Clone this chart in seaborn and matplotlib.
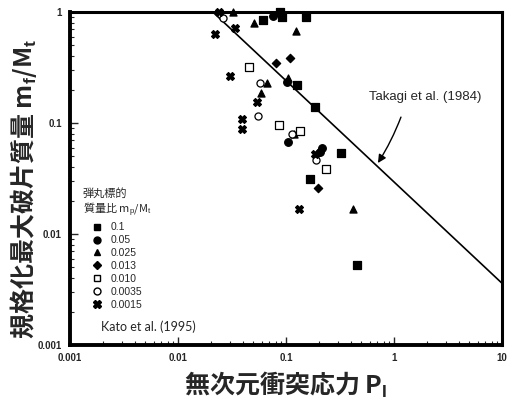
import matplotlib
matplotlib.use("Agg")
import matplotlib.pyplot as plt
import seaborn as sns
import pandas as pd
from matplotlib.lines import Line2D

# ---- data ----
sq_x = [0.061, 0.088, 0.092, 0.153, 0.126, 0.186, 0.323, 0.167, 0.454]
sq_y = [0.85, 1.0, 0.90, 0.90, 0.22, 0.139, 0.054, 0.031, 0.0053]

ci_x = [0.076, 0.102, 0.104, 0.215, 0.205]
ci_y = [0.92, 0.234, 0.0675, 0.060, 0.055]

tr_x = [0.032, 0.0506, 0.124, 0.0667, 0.0586, 0.105, 0.119, 0.417]
tr_y = [1.0, 0.80, 0.67, 0.23, 0.186, 0.254, 0.079, 0.0168]

di_x = [0.081, 0.109, 0.198, 0.200]
di_y = [0.347, 0.385, 0.026, 0.055]

osq_x = [0.045, 0.086, 0.135, 0.234]
osq_y = [0.32, 0.096, 0.085, 0.0385]

oci_x = [0.026, 0.057, 0.055, 0.114, 0.19]
oci_y = [0.88, 0.23, 0.116, 0.080, 0.046]

xm_x = [0.022, 0.024, 0.0337, 0.030, 0.054, 0.039, 0.039, 0.186, 0.132]
xm_y = [0.63, 1.0, 0.72, 0.265, 0.155, 0.109, 0.088, 0.0526, 0.0168]

takagi_x = [0.021, 10.0]
takagi_y = [1.0, 0.0036]

legend_labels = ["0.1", "0.05", "0.025", "0.013", "0.010", "0.0035", "0.0015"]
xticks = [0.001, 0.01, 0.1, 1, 10]
xticklabels = ["0.001", "0.01", "0.1", "1", "10"]
yticks = [0.001, 0.01, 0.1, 1]
yticklabels = ["0.001", "0.01", "0.1", "1"]

sns.set_style("white")
plt.rcParams['font.family'] = ['Noto Sans CJK JP', 'DejaVu Sans']
plt.rcParams['mathtext.fontset'] = 'custom'
plt.rcParams['mathtext.rm'] = 'Liberation Sans'
plt.rcParams['mathtext.bf'] = 'Liberation Sans:bold'

fig = plt.figure(figsize=(5.07, 4.05), dpi=100)
ax = fig.add_axes([70/507, 1-345/405, 432/507, 333/405])

groups = [
    (sq_x, sq_y, 's', 'black', 'black', 30),
    (ci_x, ci_y, 'o', 'black', 'black', 30),
    (tr_x, tr_y, '^', 'black', 'black', 26),
    (di_x, di_y, 'D', 'black', 'black', 18),
    (osq_x, osq_y, 's', 'white', 'black', 26),
    (oci_x, oci_y, 'o', 'white', 'black', 26),
    (xm_x, xm_y, 'X', 'black', 'black', 32),
]
for gx, gy, m, fc, ec, s in groups:
    df = pd.DataFrame({"x": gx, "y": gy})
    sns.scatterplot(data=df, x="x", y="y", marker=m, s=s, facecolor=fc,
                    edgecolor=ec, linewidth=0.9, ax=ax, zorder=3, clip_on=False)

tdf = pd.DataFrame({"x": takagi_x, "y": takagi_y})
sns.lineplot(data=tdf, x="x", y="y", color="black", linewidth=1.2, ax=ax, zorder=2)

ax.set_xscale("log")
ax.set_yscale("log")
ax.set_xlim(0.001, 10)
ax.set_ylim(0.001, 1)
ax.set_xticks(xticks)
ax.set_xticklabels(xticklabels, fontfamily='Liberation Sans', fontweight='bold', fontsize=7)
ax.set_yticks(yticks)
ax.set_yticklabels(yticklabels, fontfamily='Liberation Sans', fontweight='bold', fontsize=7)
ax.tick_params(which='major', direction='in', length=6, width=1, pad=6)
ax.tick_params(which='minor', direction='in', length=3, width=0.8)
ax.tick_params(axis='both', which='both', left=True, bottom=True, top=False, right=False)

for side in ['left', 'bottom']:
    ax.spines[side].set_linewidth(2.8)
for side in ['top', 'right']:
    ax.spines[side].set_linewidth(2.2)
for sp in ax.spines.values():
    sp.set_color('black')

ax.set_xlabel(r"無次元衝突応力 P$_\mathbf{I}$", fontsize=18, fontweight='bold', labelpad=5)
ax.set_ylabel(r"規格化最大破片質量 m$_\mathbf{f}$/M$_\mathbf{t}$", fontsize=18, fontweight='bold', labelpad=2)
ax.yaxis.set_label_coords(-0.072, 0.47)

ax.text(1.95, 0.17, "Takagi et al. (1984)", ha='center', va='center',
        fontfamily='Liberation Sans', fontsize=9.5)
ax.annotate("", xy=(0.71, 0.0436), xycoords='data',
            xytext=(1.16, 0.113), textcoords='data',
            arrowprops=dict(arrowstyle='-|>', color='black', lw=1.0,
                            shrinkA=0, shrinkB=0, mutation_scale=12,
                            connectionstyle='arc3,rad=-0.05'))

handles = [
    Line2D([], [], marker='s', ls='', color='black', mfc='black', ms=5),
    Line2D([], [], marker='o', ls='', color='black', mfc='black', ms=5),
    Line2D([], [], marker='^', ls='', color='black', mfc='black', ms=5),
    Line2D([], [], marker='D', ls='', color='black', mfc='black', ms=4),
    Line2D([], [], marker='s', ls='', color='black', mfc='white', ms=5),
    Line2D([], [], marker='o', ls='', color='black', mfc='white', ms=5),
    Line2D([], [], marker='X', ls='', color='black', mfc='black', ms=6),
]
leg = ax.legend(handles, legend_labels, title="弾丸標的\n質量比 m$_\\mathrm{p}$/M$_\\mathrm{t}$",
                loc='upper left', bbox_to_anchor=(0.02, 0.485), frameon=False,
                prop={'family': 'Liberation Sans', 'size': 7.5},
                title_fontproperties={'family': ['Noto Sans CJK JP'], 'size': 8},
                handlelength=1.0, handletextpad=0.8, labelspacing=0.28,
                borderaxespad=0)
leg._legend_box.align = "center"

ax.text(0.072, 0.055, "Kato et al. (1995)", transform=ax.transAxes,
        fontfamily='Lato', fontsize=9, ha='left', va='center')

fig.savefig("out.png", dpi=100)
